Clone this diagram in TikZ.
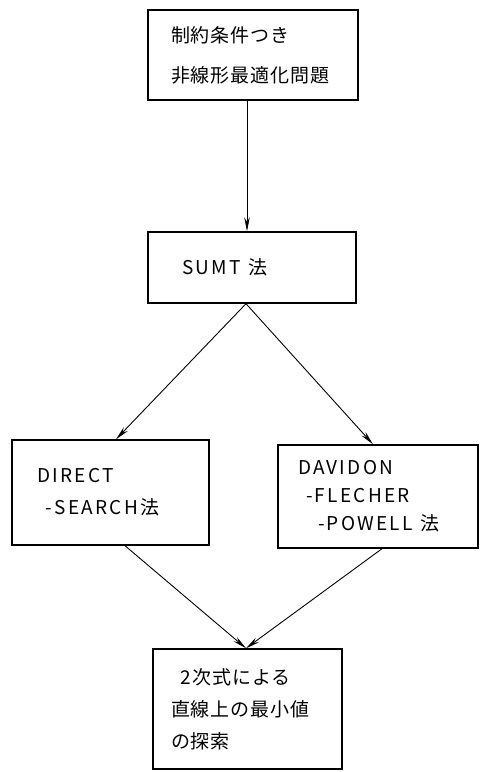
\documentclass[tikz,border=0pt]{standalone}
\usepackage{fontspec}
\setmainfont{Noto Sans CJK JP}[LetterSpace=5]
\newfontfamily\latinwide{Noto Sans CJK JP}[LetterSpace=12]
\newcommand\lw[1]{{\latinwide\fontsize{19}{19}\selectfont #1}}
\usetikzlibrary{arrows.meta}

\begin{document}
\begin{tikzpicture}[x=1pt, y=-1pt, >={Stealth[length=14pt, width=5.5pt]},
  flowbox/.style={draw, rectangle, line width=1.4pt, align=left}]
\useasboundingbox (0,0) rectangle (481,772);

\node[flowbox, text width=164pt, inner xsep=23pt, minimum height=90pt, font=\fontsize{19}{40}\selectfont] (problem) at (253,55) {制約条件つき\\非線形最適化問題};
\node[flowbox, text width=140pt, inner xsep=34pt, minimum height=71pt, font=\fontsize{19}{30}\selectfont] (sumt) at (252,267.5) {\lw{SUMT}\hspace{8pt}法};
\node[flowbox, text width=147pt, inner xsep=25pt, minimum height=105pt, font=\fontsize{19}{32}\selectfont] (direct) at (110.5,492.5) {\lw{DIRECT}\\\hspace*{9pt}\lw{-SEARCH}\hspace{3pt}法};
\node[flowbox, text width=160pt, inner xsep=20pt, minimum height=103pt, font=\fontsize{19}{28}\selectfont] (dfp) at (378,496.5) {\lw{DAVIDON}\\\hspace*{8pt}\lw{-FLECHER}\\\hspace*{20pt}\lw{-POWELL}\hspace{8pt}法};
\node[flowbox, text width=153pt, inner xsep=18pt, minimum height=120pt, font=\fontsize{19}{32}\selectfont] (search) at (247.5,709) {\hspace*{9pt}\lw{2}\hspace{2pt}次式による\\直線上の最小値\\の探索};

\draw[->, line width=0.9pt] ([xshift=-6pt]problem.south) -- ([xshift=-5pt]sumt.north);
\draw[->, line width=0.9pt] ([xshift=-6pt]sumt.south) -- ([xshift=5.5pt]direct.north);
\draw[->, line width=0.9pt] ([xshift=-6pt]sumt.south) -- ([xshift=-5pt]dfp.north);
\draw[->, line width=0.9pt] ([xshift=14.5pt]direct.south) -- ([xshift=-1.5pt]search.north);
\draw[->, line width=0.9pt] ([xshift=4pt]dfp.south) -- ([xshift=-1.5pt]search.north);
\end{tikzpicture}
\end{document}
